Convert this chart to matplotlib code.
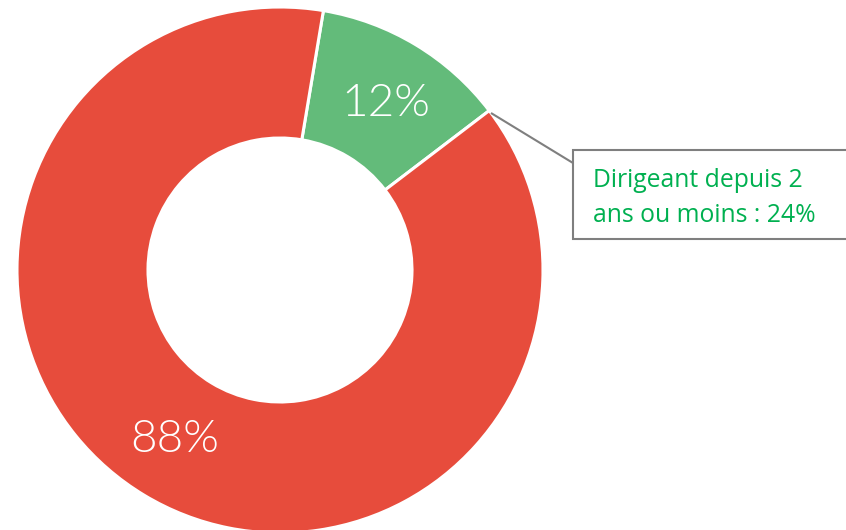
import matplotlib
matplotlib.use("Agg")
import matplotlib.pyplot as plt
from matplotlib.patches import Rectangle

## donnees
parts = [12, 88]
labels = ["12%", "88%"]
colors = ["#63BB7A", "#E74C3C"]
note_lines = ["Dirigeant depuis 2", "ans ou moins : 24%"]

W, H = 846, 530
fig = plt.figure(figsize=(W / 100, H / 100), dpi=100)
ax = fig.add_axes([0, 0, 1, 1])

cx, cy, r = 280, H - 270, 263
ax.pie(parts, colors=colors, startangle=80.5, counterclock=False,
       center=(cx, cy), radius=r, frame=True,
       wedgeprops=dict(width=131, edgecolor="white", linewidth=2.2))
ax.set_xlim(0, W)
ax.set_ylim(0, H)
ax.set_aspect("equal")
ax.axis("off")

## etiquettes en blanc
ax.text(386, H - 103, labels[0], color="white", fontsize=33, family="Lato",
        fontweight=300, ha="center", va="center")
ax.text(175, H - 440, labels[1], color="white", fontsize=33, family="Lato",
        fontweight=300, ha="center", va="center")

## ligne de rappel + encadre
ax.plot([491, 573], [H - 113, H - 163], color="#7F7F7F", lw=1.5, solid_capstyle="butt")
ax.add_patch(Rectangle((573, H - 239), 300, 89, facecolor="white",
                       edgecolor="#7F7F7F", lw=1.5, clip_on=False))
ax.text(593, H - 187, note_lines[0], color="#00B050", fontsize=17.8,
        family="Open Sans", va="baseline")
ax.text(593, H - 222, note_lines[1], color="#00B050", fontsize=17.8,
        family="Open Sans", va="baseline")

plt.savefig("out.png", dpi=100)
